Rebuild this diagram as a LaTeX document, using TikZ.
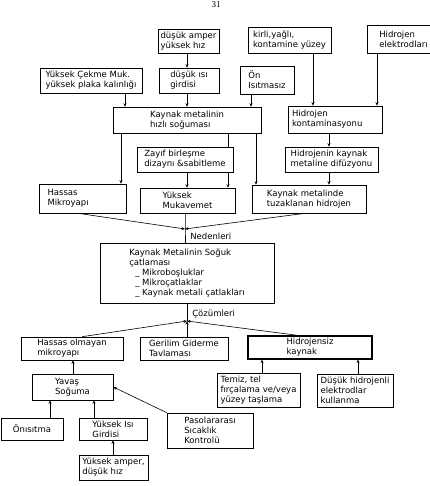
\documentclass[tikz,border=0pt]{standalone}
\usepackage{fontspec}
\setmainfont{DejaVu Sans}
\newfontfamily\pagefont{Liberation Serif}
\usetikzlibrary{arrows.meta}
\begin{document}
\begin{tikzpicture}[x=1pt,y=-1pt,line width=0.6pt,>={Stealth[length=3.5pt,width=3pt]},
  box/.style={draw,fill=white,align=left,inner sep=1.5pt,font=\fontsize{8.5}{10}\selectfont},
  boldbox/.style={box,line width=1.2pt},
  lbl/.style={anchor=west,inner sep=0pt,font=\fontsize{8.5}{10}\selectfont}]
  \useasboundingbox (0,0) rectangle (429,486);
  \node[anchor=base,inner sep=0pt,font=\pagefont\fontsize{9}{9}\selectfont] (page) at (216,7.5) {31};
  % ust sira
  \node[box,minimum width=61pt,minimum height=24pt] (amper) at (188.5,41) {düşük amper\\yüksek hız};
  \node[box,minimum width=83pt,minimum height=26pt] (kirli) at (289.5,40) {kirli,yağlı,\\kontamine yüzey};
  \node[box,minimum width=73pt,minimum height=28pt] (elektrod) at (403.5,39) {Hidrojen\\elektrodları};
  \node[box,minimum width=102pt,minimum height=25pt] (cekme) at (91,80.5) {Yüksek Çekme Muk.\\yüksek plaka kalınlığı};
  \node[box,minimum width=60pt,minimum height=25pt] (isi) at (189,80.5) {düşük ısı\\girdisi};
  \node[box,minimum width=54pt,minimum height=28pt] (onisit) at (267,80) {Ön\\Isıtmasız};
  \node[box,minimum width=148pt,minimum height=26pt] (hizli) at (187,120) {Kaynak metalinin\\hızlı soğuması};
  \node[box,minimum width=94pt,minimum height=27pt,text width=86pt] (kontam) at (335,119.5) {Hidrojen\\kontaminasyonu};
  \node[box,minimum width=96pt,minimum height=25pt] (zayif) at (185,159.5) {Zayıf birleşme\\dizaynı \&sabitleme};
  \node[box,minimum width=93pt,minimum height=25pt] (difuz) at (331.5,159.5) {Hidrojenin kaynak\\metaline difüzyonu};
  \node[box,minimum width=87pt,minimum height=29pt,text width=70pt] (hassas) at (82.5,198.5) {Hassas\\Mikroyapı};
  \node[box,minimum width=95pt,minimum height=25pt] (mukav) at (187.5,200.5) {Yüksek\\Mukavemet};
  \node[box,minimum width=114pt,minimum height=28pt] (tuzak) at (309,199) {Kaynak metalinde\\tuzaklanan hidrojen};
  \node[box,line width=0.9pt,minimum width=174pt,minimum height=60pt] (soguk) at (187,273)
    {Kaynak Metalinin Soğuk\\çatlaması\\\hspace{6pt}\_ Mikroboşluklar\\\hspace{6pt}\_ Mikroçatlaklar\\\hspace{6pt}\_ Kaynak metali çatlakları};
  % alt kisim
  \node[box,minimum width=102pt,minimum height=23pt] (hosz) at (72,348.5) {Hassas olmayan\\mikroyapı};
  \node[box,minimum width=88pt,minimum height=23pt] (geril) at (184,348.5) {Gerilim Giderme\\Tavlaması};
  \node[boldbox,minimum width=124pt,minimum height=23pt] (hsiz) at (310,347.5) {Hidrojensiz\\kaynak};
  \node[box,minimum width=81pt,minimum height=26pt] (yavas) at (72.5,387) {Yavaş\\Soğuma};
  \node[box,minimum width=83pt,minimum height=34pt,inner sep=1pt] (temiz) at (258.5,390) {Temiz, tel\\fırçalama ve/veya\\yüzey taşlama};
  \node[box,minimum width=76pt,minimum height=33pt,inner sep=1pt] (dusukh) at (355,390.5) {Düşük hidrojenli\\elektrodlar\\kullanma};
  \node[box,minimum width=86pt,minimum height=35pt] (paso) at (210,430.5) {Pasolararası\\Sıcaklık\\Kontrolü};
  \node[box,minimum width=62pt,minimum height=22pt] (onis) at (32,429) {Önısıtma};
  \node[box,minimum width=68pt,minimum height=22pt] (yisi) at (113,429) {Yüksek Isı\\Girdisi};
  \node[box,minimum width=69pt,minimum height=25pt] (yamper) at (113.5,467.5) {Yüksek amper,\\düşük hız};
  % baglantilar
  \draw[->] (187,0 |- amper.south) -- (187,0 |- isi.north);
  \draw[->] (125,0 |- cekme.south) -- (125,0 |- hizli.north);
  \draw[->] (187,0 |- isi.south) -- (187,0 |- hizli.north);
  \draw[->] (251,0 |- onisit.south) -- (251,0 |- hizli.north);
  \draw[->] (313,0 |- kirli.south) -- (313,0 |- kontam.north);
  \draw[->] (377,0 |- elektrod.south) -- (377,0 |- kontam.north);
  \draw[->] (329,0 |- kontam.south) -- (329,0 |- difuz.north);
  \draw[->] (329,0 |- difuz.south) -- (329,0 |- tuzak.north);
  \draw[->] (121,0 |- hizli.south) -- (121,0 |- hassas.north);
  \draw (228,0 |- hizli.south) -- (228,0 |- zayif.north);
  \draw[->] (228,0 |- zayif.south) -- (228,0 |- mukav.north);
  \draw[->] (256,0 |- hizli.south) -- (256,0 |- tuzak.north);
  \draw[->] (187,0 |- zayif.south) -- (187,0 |- mukav.north);
  \coordinate (neden) at (185,229);
  \draw[->] (78,0 |- hassas.south) -- (neden);
  \draw[->] (305,0 |- tuzak.south) -- (neden);
  \draw (neden |- mukav.south) -- (neden) -- (neden |- soguk.north);
  \node[lbl] (nedenleri) at (190,236) {Nedenleri};
  \coordinate (cozum) at (187,321);
  \draw[->] (82,0 |- hosz.north) -- (cozum);
  \draw[->] (cozum |- geril.north) -- (cozum);
  \draw[->] (298,0 |- hsiz.north) -- (cozum);
  \draw (cozum) -- (cozum |- soguk.south);
  \node[lbl] (cozumleri) at (192,314) {Çözümleri};
  \draw[->] (262,0 |- temiz.north) -- (262,0 |- hsiz.south);
  \draw[->] (358,0 |- dusukh.north) -- (358,0 |- hsiz.south);
  \draw[->] (73,0 |- yavas.north) -- (73,0 |- hosz.south);
  \draw[->] (50,0 |- onis.north) -- (50,0 |- yavas.south);
  \draw[->] (94,0 |- yisi.north) -- (94,0 |- yavas.south);
  \draw[->] (113,0 |- yamper.north) -- (113,0 |- yisi.south);
  \draw[->] (paso.north west) -- (yavas.east);
\end{tikzpicture}
\end{document}
